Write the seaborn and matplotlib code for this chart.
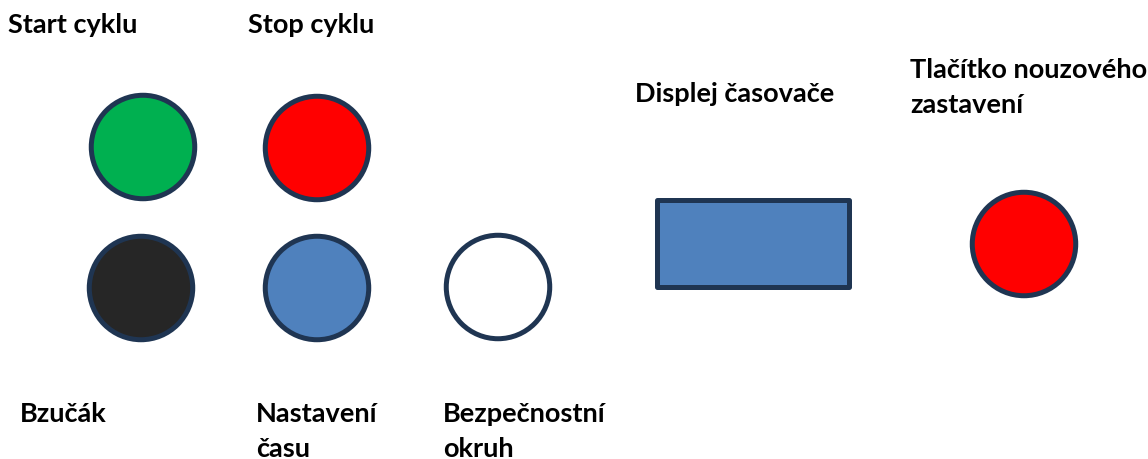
# Control panel layout - buttons and display
import pandas as pd
import matplotlib
matplotlib.use("Agg")
import matplotlib.pyplot as plt
import seaborn as sns
from matplotlib.patches import Rectangle

sns.set_style("white")
plt.rcParams["font.family"] = ["Lato", "DejaVu Sans"]

# Buttons (centres in pixel units of the panel)
button_names = ["Start cyklu", "Stop cyklu", "Bzučák", "Nastavení času",
                "Bezpečnostní okruh", "Tlačítko nouzového zastavení"]
button_x = [143, 317, 141, 317, 498, 1024]
button_y = [147, 148, 288, 288, 287, 244]
button_colors = ["#00B050", "#FF0000", "#262626", "#4F81BD", "#FFFFFF", "#FF0000"]

# Timer display
display_name = "Displej časovače"
display_x = 753
display_y = 243.5
display_w = 192
display_h = 87
display_color = "#4F81BD"

# Labels: lines of text and their anchor (left x, first baseline y)
label_lines = [["Start cyklu"], ["Stop cyklu"], ["Bzučák"], ["Nastavení", "času"],
               ["Bezpečnostní", "okruh"], ["Tlačítko nouzového", "zastavení"],
               ["Displej časovače"]]
label_x = [8, 248, 20, 256, 443, 910, 635]
label_y = [33, 33, 422, 422, 422, 78, 102]

edge = "#1F3552"

df = pd.DataFrame({"name": button_names, "x": button_x, "y": button_y,
                   "color": button_colors})

fig = plt.figure(figsize=(11.48, 4.59), dpi=100)
ax = fig.add_axes([0, 0, 1, 1])

sns.scatterplot(data=df, x="x", y="y", hue="name",
                palette=dict(zip(df["name"], df["color"])),
                s=5550, edgecolor=edge, linewidth=3.6, legend=False, ax=ax)

ax.add_patch(Rectangle((display_x - display_w / 2, display_y - display_h / 2),
                       display_w, display_h, facecolor=display_color,
                       edgecolor=edge, linewidth=3.6, joinstyle="round"))

for lines, lx, ly in zip(label_lines, label_x, label_y):
    for i, line in enumerate(lines):
        ax.text(lx, ly + i * 35, line, fontsize=19.5, fontweight="bold",
                color="black", ha="left", va="baseline")

ax.set_xlim(0, 1148)
ax.set_ylim(459, 0)
ax.axis("off")

fig.savefig("out.png", dpi=100)
